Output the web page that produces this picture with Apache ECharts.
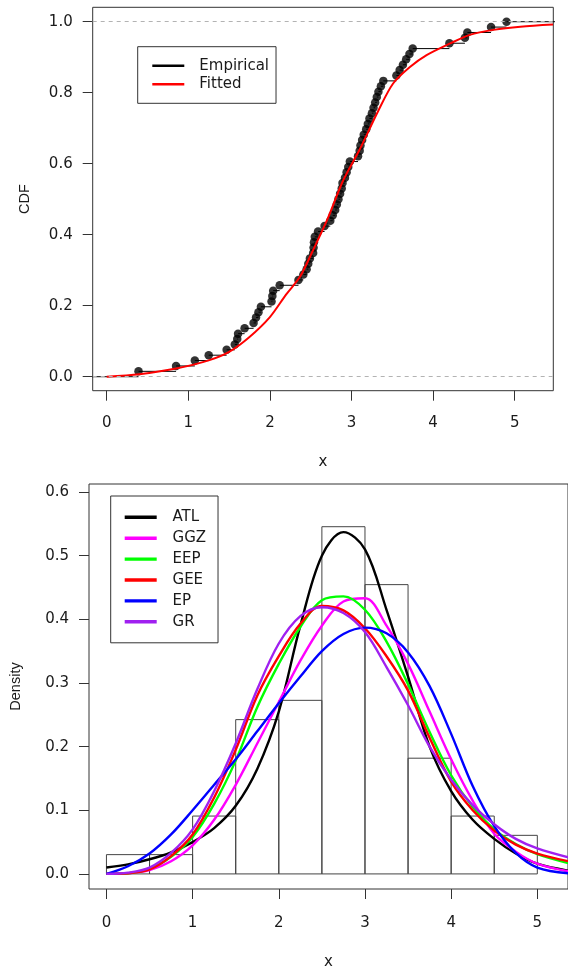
<!DOCTYPE html>
<html>
<head>
<meta charset="utf-8">
<script src="https://cdn.jsdelivr.net/npm/echarts@6/dist/echarts.min.js"></script>
<style>
  html, body { margin: 0; padding: 0; background: #fff; }
  #main { width: 568px; height: 971px; }
</style>
</head>
<body>
<div id="main"></div>
<script>
// empirical sample (sorted)
var sampleX = [0.39, 0.85, 1.08, 1.25, 1.47, 1.57, 1.60, 1.61, 1.69, 1.80, 1.83, 1.86, 1.89,
  2.02, 2.03, 2.04, 2.12, 2.35, 2.41, 2.45, 2.47, 2.49,
  2.53, 2.535, 2.54, 2.55, 2.59, 2.67, 2.74, 2.77, 2.80, 2.82, 2.84, 2.86, 2.88, 2.89, 2.92, 2.94, 2.96, 2.98,
  3.08, 3.10, 3.11, 3.13, 3.15, 3.18, 3.20, 3.22, 3.25, 3.27, 3.29, 3.31, 3.33, 3.36, 3.39,
  3.55, 3.59, 3.63, 3.67, 3.71, 3.75,
  4.20, 4.39, 4.42, 4.71, 4.90];

// fitted CDF (red curve)
var fitX = [0, 0.4, 0.85, 1.25, 1.5, 1.75, 2.0, 2.2, 2.37, 2.53, 2.7, 2.9, 3.1, 3.33, 3.51, 3.72, 3.92, 4.21, 4.45, 4.74, 5.07, 5.47];
var fitF = [0, 0.007, 0.023, 0.046, 0.07, 0.112, 0.168, 0.232, 0.282, 0.357, 0.441, 0.554, 0.64, 0.75, 0.826, 0.873, 0.906, 0.939, 0.963, 0.977, 0.986, 0.992];

// histogram (density scale)
var binLo = [0, 0.5, 1, 1.5, 2, 2.5, 3, 3.5, 4, 4.5];
var binHi = [0.5, 1, 1.5, 2, 2.5, 3, 3.5, 4, 4.5, 5];
var binDens = [0.0303, 0.0303, 0.0909, 0.2424, 0.2727, 0.5455, 0.4545, 0.1818, 0.0909, 0.0606];

// fitted densities
var densX = [0, 0.25, 0.5, 0.75, 1, 1.25, 1.5, 1.75, 2, 2.25, 2.5, 2.75, 3, 3.25, 3.5, 3.75, 4, 4.25, 4.5, 4.75, 5, 5.36];
var atl = [0.01, 0.015, 0.023, 0.034, 0.05, 0.072, 0.107, 0.165, 0.255, 0.39, 0.50, 0.537, 0.51, 0.415, 0.31, 0.20, 0.13, 0.085, 0.055, 0.032, 0.016, 0.005];
var ggz = [0, 0.001, 0.006, 0.02, 0.045, 0.085, 0.14, 0.205, 0.27, 0.335, 0.39, 0.428, 0.433, 0.39, 0.33, 0.255, 0.18, 0.115, 0.063, 0.035, 0.016, 0.004];
var eep = [0, 0.001, 0.008, 0.027, 0.058, 0.11, 0.178, 0.262, 0.33, 0.388, 0.43, 0.436, 0.415, 0.365, 0.298, 0.223, 0.155, 0.105, 0.07, 0.047, 0.031, 0.017];
var gee = [0, 0.001, 0.007, 0.028, 0.062, 0.12, 0.195, 0.28, 0.342, 0.393, 0.421, 0.414, 0.386, 0.342, 0.288, 0.214, 0.145, 0.1, 0.068, 0.046, 0.032, 0.02];
var ep = [0, 0.012, 0.032, 0.062, 0.1, 0.14, 0.18, 0.224, 0.268, 0.31, 0.35, 0.377, 0.387, 0.378, 0.348, 0.295, 0.22, 0.138, 0.075, 0.033, 0.01, 0.001];
var gr = [0, 0.002, 0.01, 0.033, 0.07, 0.13, 0.205, 0.29, 0.362, 0.405, 0.419, 0.41, 0.38, 0.325, 0.265, 0.20, 0.148, 0.108, 0.078, 0.055, 0.04, 0.026];

var curveNames = ['ATL', 'GGZ', 'EEP', 'GEE', 'EP', 'GR'];
var curveData = [atl, ggz, eep, gee, ep, gr];
var curveColors = ['#000000', '#ff00ff', '#00ff00', '#ff0000', '#0000ff', '#a020f0'];

var xTicks = [0, 1, 2, 3, 4, 5];
var cdfTicks = [0, 0.2, 0.4, 0.6, 0.8, 1.0];
var densTicks = [0, 0.1, 0.2, 0.3, 0.4, 0.5, 0.6];

var n = sampleX.length;
var pts = sampleX.map(function (x, i) { return [x, (i + 1) / n]; });

// horizontal pieces of the step function
var steps = [[-0.2, 0], [sampleX[0], 0], ['-', '-']];
for (var i = 0; i < n; i++) {
  var xEnd = i < n - 1 ? sampleX[i + 1] : 5.5;
  steps.push([sampleX[i], (i + 1) / n], [xEnd, (i + 1) / n], ['-', '-']);
}

function zip(xs, ys) { return xs.map(function (x, i) { return [x, ys[i]]; }); }

var txt = '#1a1a1a';
var tickFont = { fontFamily: 'DejaVu Sans', fontSize: 15, color: txt };
var titleFont = { fontFamily: 'Liberation Sans', fontSize: 14.5, color: txt };
// thin line icon for legends (empty points keep the box height)
var lineIcon2 = 'path://M0,0 L0.01,0 M0,6.3 L32,6.3 L32,8.7 L0,8.7 Z M32,15 L32.01,15';
var lineIcon3 = 'path://M0,0 L0.01,0 M0,5.8 L32,5.8 L32,9.2 L0,9.2 Z M32,15 L32.01,15';

function xAxisOf(grid, min, max, gap, margin) {
  return {
    gridIndex: grid, type: 'value', min: min, max: max,
    name: 'x', nameLocation: 'middle', nameGap: gap,
    nameTextStyle: { fontFamily: 'DejaVu Sans', fontSize: 15, color: txt },
    axisLine: { show: false, onZero: false },
    axisTick: { show: true, inside: false, length: 10, customValues: xTicks, lineStyle: { color: '#333' } },
    axisLabel: Object.assign({ customValues: xTicks, margin: margin }, tickFont),
    splitLine: { show: false }
  };
}

function yAxisOf(grid, min, max, name, gap, ticks) {
  return {
    gridIndex: grid, type: 'value', min: min, max: max,
    name: name, nameLocation: 'middle', nameGap: gap, nameTextStyle: titleFont,
    axisLine: { show: false, onZero: false },
    axisTick: { show: true, inside: false, length: 10, customValues: ticks, lineStyle: { color: '#333' } },
    axisLabel: Object.assign({ customValues: ticks, margin: 20,
      formatter: function (v) { return v.toFixed(1); } }, tickFont),
    splitLine: { show: false }
  };
}

var myChart = echarts.init(document.getElementById('main'));

var series = [
  {
    name: 'Empirical',
    type: 'line',
    xAxisIndex: 0, yAxisIndex: 0,
    data: steps,
    symbol: 'none',
    connectNulls: false,
    lineStyle: { color: '#000', width: 1 },
    itemStyle: { color: '#000' },
    z: 2,
    markLine: {
      silent: true,
      symbol: 'none',
      label: { show: false },
      lineStyle: { color: '#b3b3b3', type: [4, 4], width: 1 },
      data: [{ yAxis: 0 }, { yAxis: 1 }]
    }
  },
  {
    name: 'points',
    type: 'scatter',
    xAxisIndex: 0, yAxisIndex: 0,
    data: pts,
    symbolSize: 8.5,
    itemStyle: { color: '#000' },
    z: 3
  },
  {
    name: 'Fitted',
    type: 'line',
    xAxisIndex: 0, yAxisIndex: 0,
    data: zip(fitX, fitF),
    smooth: 0.3,
    symbol: 'none',
    lineStyle: { color: '#ff0000', width: 2 },
    itemStyle: { color: '#ff0000' },
    z: 4
  },
  {
    name: 'hist',
    type: 'custom',
    xAxisIndex: 1, yAxisIndex: 1,
    data: binLo.map(function (lo, i) { return [lo, binHi[i], binDens[i]]; }),
    encode: { x: [0, 1], y: 2 },
    renderItem: function (params, api) {
      var p0 = api.coord([api.value(0), api.value(2)]);
      var p1 = api.coord([api.value(1), 0]);
      return {
        type: 'rect',
        shape: { x: p0[0], y: p0[1], width: p1[0] - p0[0], height: p1[1] - p0[1] },
        style: { fill: 'none', stroke: '#444', lineWidth: 1 }
      };
    },
    z: 1
  }
];

curveNames.forEach(function (name, k) {
  series.push({
    name: name,
    type: 'line',
    xAxisIndex: 1, yAxisIndex: 1,
    data: zip(densX, curveData[k]),
    smooth: 0.35,
    symbol: 'none',
    lineStyle: { color: curveColors[k], width: 2.4 },
    itemStyle: { color: curveColors[k] },
    z: 3 + k
  });
});

option = {
  animation: false,
  backgroundColor: '#fff',
  grid: [
    { left: 92.7, top: 7.3, width: 460.6, height: 383.4, show: true, borderColor: '#333', borderWidth: 1 },
    { left: 86, top: 484, width: 496.8, height: 408.5, show: true, borderColor: '#333', borderWidth: 1 }
  ],
  xAxis: [
    xAxisOf(0, -0.1716, 5.473, 64, 25),
    xAxisOf(1, -0.2025, 5.356, 66, 27)
  ],
  yAxis: [
    yAxisOf(0, -0.0394, 1.0406, 'CDF', 60, cdfTicks),
    yAxisOf(1, -0.0237, 0.6126, 'Density', 66, densTicks)
  ],
  legend: [
    {
      data: ['Empirical', 'Fitted'],
      orient: 'vertical',
      left: 137.7, top: 46.7,
      padding: [11.5, 7, 11.5, 14.6],
      icon: lineIcon2,
      itemWidth: 32, itemHeight: 15, itemGap: 3.6,
      borderColor: '#333', borderWidth: 1, backgroundColor: '#fff',
      textStyle: { fontFamily: 'DejaVu Sans', fontSize: 15, color: txt, padding: [0, 0, 0, 10] },
      selectedMode: false
    },
    {
      data: curveNames,
      orient: 'vertical',
      left: 110.7, top: 496,
      padding: [13.8, 12, 13.5, 14],
      icon: lineIcon3,
      itemWidth: 33.6, itemHeight: 15, itemGap: 5.9,
      borderColor: '#333', borderWidth: 1, backgroundColor: '#fff',
      textStyle: { fontFamily: 'DejaVu Sans', fontSize: 15, color: txt, padding: [0, 0, 0, 10] },
      selectedMode: false
    }
  ],
  series: series
};

myChart.setOption(option);
</script>
</body>
</html>
